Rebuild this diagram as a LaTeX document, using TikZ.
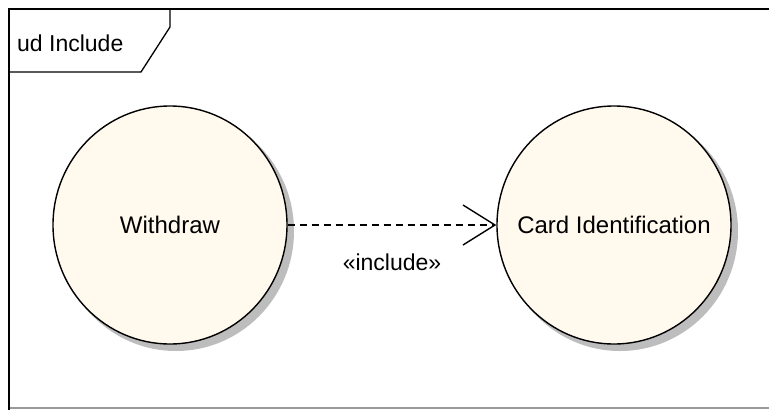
\documentclass[tikz,border=0pt]{standalone}
\usepackage{fontspec}
\setmainfont{Liberation Sans}
\usetikzlibrary{arrows.meta,shapes.geometric}
\definecolor{ucfill}{HTML}{FFF9EE}
\definecolor{shadowgray}{HTML}{BDBDBD}
\definecolor{framegray}{HTML}{9A9A9A}
\tikzset{
  usecase/.style={ellipse, draw=black, line width=1.4pt, fill=ucfill,
    inner xsep=-16pt, inner ysep=0pt,
    minimum width=234pt, minimum height=238pt,
    font=\fontsize{24}{28}\selectfont},
  ucshadow/.style={fill=shadowgray},
  frameline/.style={line width=1.6pt, black},
  includeedge/.style={line width=1.4pt, dash pattern=on 7pt off 5pt,
    -{Straight Barb[length=32pt, width=40pt, line width=1.4pt]}},
  lbl/.style={font=\fontsize{23}{27}\selectfont, inner sep=0pt}
}
\begin{document}
\begin{tikzpicture}[x=1pt,y=-1pt]
  \fill[white] (0,0) rectangle (769,410);
  \useasboundingbox (0,0) rectangle (769,410);
  % frame
  \draw[framegray, line width=2pt] (9,408) -- (769,408);
  \draw[frameline] (9,410) -- (9,9) -- (769,9);
  \draw[frameline, line width=1.3pt] (170,9) -- (170,27) -- (141,72) -- (9,72);
  \node[lbl, anchor=base west] (title) at (17,51) {ud Include};
  % shadows
  \fill[ucshadow] (176,231) ellipse [x radius=118pt, y radius=120pt];
  \fill[ucshadow] (620,231) ellipse [x radius=118pt, y radius=120pt];
  % use cases
  \node[usecase] (w) at (170,225) {Withdraw};
  \node[usecase] (c) at (614,225) {Card Identification};
  % include dependency
  \draw[includeedge] (w.east) -- (c.west)
    node[lbl, midway, yshift=-37pt] (inc) {«include»};
\end{tikzpicture}
\end{document}
